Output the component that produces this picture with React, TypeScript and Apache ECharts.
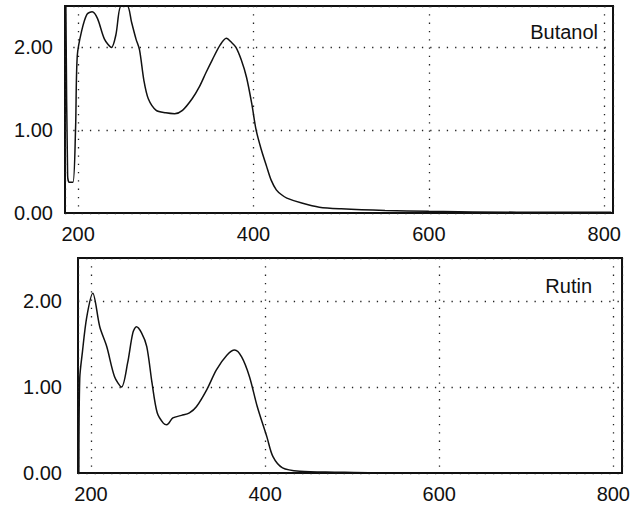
import React, { useEffect, useRef } from "react";
import * as echarts from "echarts";

// Butanol extract spectrum (wavelength nm, absorbance)
const butanolWavelength = [186, 188, 190, 194, 197, 199, 204, 210, 216, 222, 230, 238, 243, 249, 256, 261, 266, 270, 275, 280, 289, 300, 310, 319, 330, 338, 346, 353, 362, 369, 375, 380, 386, 392, 398, 403, 409, 415, 420, 426, 432, 438, 455, 475, 500, 550, 600, 700, 800, 808];
const butanolAbs = [2.5, 0.45, 0.37, 0.37, 1.0, 1.9, 2.2, 2.4, 2.43, 2.35, 2.1, 2.0, 2.15, 2.5, 2.5, 2.3, 2.1, 1.97, 1.6, 1.38, 1.24, 1.21, 1.2, 1.24, 1.38, 1.52, 1.7, 1.85, 2.03, 2.11, 2.06, 2.0, 1.85, 1.64, 1.32, 1.0, 0.76, 0.56, 0.4, 0.28, 0.22, 0.18, 0.12, 0.07, 0.05, 0.03, 0.02, 0.01, 0.01, 0.01];

// Rutin standard spectrum
const rutinWavelength = [186, 187, 190, 195, 202, 210, 218, 227, 235, 242, 248, 252, 258, 264, 270, 276, 283, 287, 294, 304, 313, 321, 333, 344, 356, 365, 373, 382, 391, 402, 409, 420, 440, 480, 550, 650, 808];
const rutinAbs = [0.0, 1.1, 1.4, 1.81, 2.09, 1.7, 1.47, 1.12, 1.0, 1.28, 1.63, 1.7, 1.63, 1.47, 1.05, 0.7, 0.58, 0.56, 0.64, 0.67, 0.7, 0.77, 0.97, 1.2, 1.37, 1.43, 1.35, 1.12, 0.77, 0.42, 0.19, 0.06, 0.02, 0.01, 0.0, 0.0, 0.0];

const panelNames = ["Butanol", "Rutin"];
const yTicks = [0, 1, 2];
const xMin = 185;
const xMax = 810;
const yMax = 2.5;

export default function App() {
  const ref = useRef<HTMLDivElement>(null);
  useEffect(() => {
    document.body.style.margin = "0";
    const chart = echarts.init(ref.current!, null, { renderer: "svg" });
    const font = "'Liberation Sans', Arial, sans-serif";
    const grids = [
      { left: 65, right: 20, top: 6, height: 207 },
      { left: 78, right: 10, top: 258, height: 215 },
    ];
    const xAxis = grids.map((_, i) => ({
      type: "value",
      gridIndex: i,
      min: xMin,
      max: xMax,
      splitNumber: 3,
      axisLine: { show: false },
      axisTick: { show: false },
      axisLabel: {
        showMinLabel: false,
        showMaxLabel: false,
        color: "#111",
        fontSize: 20,
        fontFamily: font,
        margin: 11,
      },
      splitLine: {
        show: true,
        lineStyle: { color: "#222", width: 1.3, type: [1.3, 7] },
      },
    }));
    const yAxis = grids.map((_, i) => ({
      type: "value",
      gridIndex: i,
      min: yTicks[0],
      max: yMax,
      interval: 1,
      axisLine: { show: false },
      axisTick: { show: false },
      axisLabel: {
        showMaxLabel: false,
        color: "#111",
        fontSize: 20,
        fontFamily: font,
        margin: i === 0 ? 12 : 16,
        formatter: (v: number) => v.toFixed(2),
      },
      splitLine: {
        show: true,
        lineStyle: { color: "#222", width: 1.3, type: [1.3, 7] },
      },
    }));
    const makeData = (xs: number[], ys: number[]) => xs.map((x, k) => [x, ys[k]]);
    chart.setOption({
      animation: false,
      backgroundColor: "#fff",
      title: [
        {
          text: panelNames[0],
          right: 30,
          top: 17,
          textStyle: { color: "#111", fontSize: 20, fontWeight: "normal", fontFamily: font },
        },
        {
          text: panelNames[1],
          right: 36,
          top: 271,
          textStyle: { color: "#111", fontSize: 20, fontWeight: "normal", fontFamily: font },
        },
      ],
      grid: grids.map((g) => ({
        ...g,
        show: true,
        borderColor: "#111",
        borderWidth: 2,
        backgroundColor: "transparent",
      })),
      xAxis,
      yAxis,
      series: [
        {
          type: "line",
          xAxisIndex: 0,
          yAxisIndex: 0,
          data: makeData(butanolWavelength, butanolAbs),
          showSymbol: false,
          smooth: 0.3,
          lineStyle: { color: "#111", width: 1.5 },
        },
        {
          type: "line",
          xAxisIndex: 1,
          yAxisIndex: 1,
          data: makeData(rutinWavelength, rutinAbs),
          showSymbol: false,
          smooth: 0.3,
          lineStyle: { color: "#111", width: 1.5 },
        },
      ],
    });
    return () => chart.dispose();
  }, []);
  return <div ref={ref} style={{ width: 633, height: 508 }} />;
}
